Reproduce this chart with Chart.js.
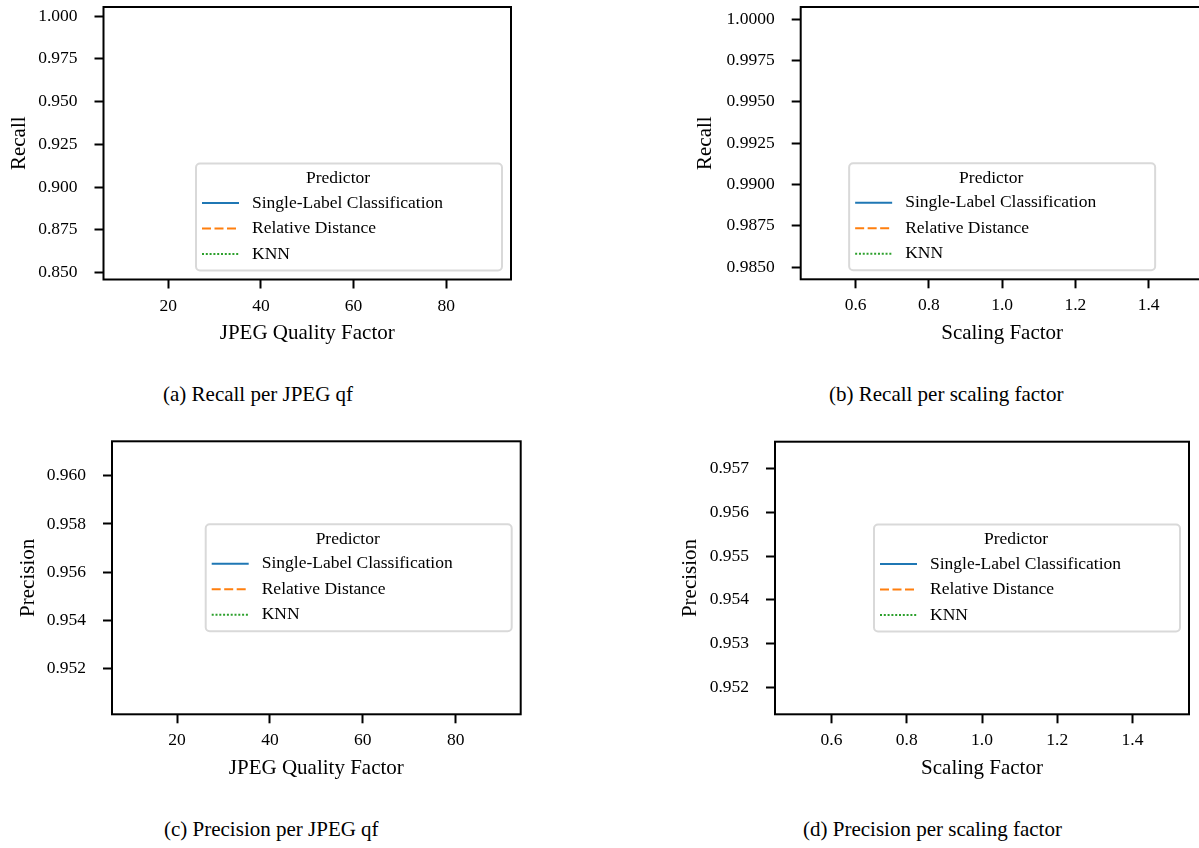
<!DOCTYPE html>
<html>
<head>
<meta charset="utf-8">
<title>Recall / Precision per perturbation</title>
<script src="https://cdn.jsdelivr.net/npm/chart.js@4"></script>
<style>
    html, body {
        margin: 0;
        padding: 0;
        background: #fff;
    }
    #page {
        position: relative;
        width: 1199px;
        height: 848px;
        overflow: hidden;
        background: #fff;
    }
    canvas {
        position: absolute;
    }
    .caption {
        position: absolute;
        font-family: "Liberation Serif", "Times New Roman", serif;
        font-size: 21px;
        line-height: 1;
        color: #000;
        white-space: nowrap;
    }
</style>
</head>
<body>
<div id="page">
    <canvas id="recallJpeg" width="530" height="380" style="left:0px;top:0px;"></canvas>
    <canvas id="recallScale" width="540" height="380" style="left:680px;top:0px;"></canvas>
    <canvas id="precisionJpeg" width="530" height="380" style="left:0px;top:420px;"></canvas>
    <canvas id="precisionScale" width="530" height="380" style="left:670px;top:420px;"></canvas>

    <div class="caption" style="left:163px;top:384px;">(a) Recall per JPEG qf</div>
    <div class="caption" style="left:829px;top:384px;">(b) Recall per scaling factor</div>
    <div class="caption" style="left:164px;top:819px;">(c) Precision per JPEG qf</div>
    <div class="caption" style="left:803px;top:819px;">(d) Precision per scaling factor</div>
</div>

<script>
// ======================================================
// Data
// ======================================================

const predictors = [
    "Single-Label Classification",
    "Relative Distance",
    "KNN"
];

// series per predictor, {x, y} points — none fall inside the plotted windows
const recallJpegSeries = [[], [], []];
const recallScaleSeries = [[], [], []];
const precisionJpegSeries = [[], [], []];
const precisionScaleSeries = [[], [], []];

const jpegTicks = [20, 40, 60, 80];
const scaleTicks = [0.6, 0.8, 1.0, 1.2, 1.4];

const recallJpegTicks = [0.850, 0.875, 0.900, 0.925, 0.950, 0.975, 1.000];
const recallScaleTicks = [0.9850, 0.9875, 0.9900, 0.9925, 0.9950, 0.9975, 1.0000];
const precisionJpegTicks = [0.952, 0.954, 0.956, 0.958, 0.960];
const precisionScaleTicks = [0.952, 0.953, 0.954, 0.955, 0.956, 0.957];

// axis windows [min, max]
const jpegRange = [6, 94];
const scaleRange = [0.45, 1.55];
const recallJpegRange = [0.8459, 1.0053];
const recallScaleRange = [0.98427, 1.00074];
const precisionJpegRange = [0.95011, 0.961426];
const precisionScaleRange = [0.951375, 0.957618];

// ======================================================
// Style
// ======================================================

const SERIF = "'Liberation Serif', 'Times New Roman', serif";

const lineStyles = [
    { color: "#1f77b4", dash: [] },
    { color: "#ff7f0e", dash: [9, 3.5] },
    { color: "#2ca02c", dash: [2, 1.8] }
];

// ======================================================
// Plugins
// ======================================================

// full black frame around the plotting area
const frame = {
    id: "frame",
    afterDraw(chart) {
        const { ctx, chartArea: a } = chart;
        ctx.save();
        ctx.strokeStyle = "#000";
        ctx.lineWidth = 2;
        ctx.strokeRect(a.left, a.top, a.right - a.left, a.bottom - a.top);
        ctx.restore();
    }
};

// boxed legend with a title, drawn from the datasets
const predictorLegend = {
    id: "predictorLegend",
    afterDraw(chart, args, opts) {
        const { ctx, chartArea: a } = chart;
        const w = 306;
        const h = 107;
        const pad = 9;
        let x = a.right - pad - w;
        let y = a.bottom - pad - h;

        if (opts.loc === "lower center") {
            x = (a.left + a.right) / 2 - w / 2;
        }
        if (opts.loc === "center right") {
            y = (a.top + a.bottom) / 2 - h / 2;
        }

        ctx.save();

        ctx.beginPath();
        ctx.roundRect(x, y, w, h, 4);
        ctx.fillStyle = "rgba(255,255,255,0.8)";
        ctx.fill();
        ctx.strokeStyle = "#d9d9d9";
        ctx.lineWidth = 2;
        ctx.stroke();

        ctx.font = "17.5px " + SERIF;
        ctx.fillStyle = "#000";
        ctx.textBaseline = "middle";
        ctx.textAlign = "center";
        ctx.fillText(opts.title, x + 142, y + 15);

        chart.data.datasets.forEach((ds, i) => {
            const ly = y + 39.5 + i * 25.5;

            ctx.beginPath();
            ctx.setLineDash(ds.borderDash);
            ctx.strokeStyle = ds.borderColor;
            ctx.lineWidth = ds.borderWidth;
            ctx.lineCap = "butt";
            ctx.moveTo(x + 6, ly);
            ctx.lineTo(x + 43, ly);
            ctx.stroke();
            ctx.setLineDash([]);

            ctx.textAlign = "left";
            ctx.fillText(ds.label, x + 56, ly);
        });

        ctx.restore();
    }
};

// ======================================================
// Panel builder
// ======================================================

function makePanel(id, p) {

    const datasets = predictors.map((name, i) => ({
        label: name,
        data: p.series[i],
        borderColor: lineStyles[i].color,
        borderDash: lineStyles[i].dash,
        borderWidth: 2,
        pointRadius: 0,
        fill: false
    }));

    const tickFont = { family: SERIF, size: 17.5 };
    const titleFont = { family: SERIF, size: 21, lineHeight: 1 };

    return new Chart(
        document.getElementById(id),
        {
            type: "line",
            data: { datasets },
            plugins: [frame, predictorLegend],
            options: {
                responsive: false,
                animation: false,
                layout: {
                    padding: { top: p.area.top, right: p.area.right, bottom: 0, left: 0 }
                },
                plugins: {
                    legend: { display: false },
                    tooltip: { enabled: false },
                    predictorLegend: { loc: p.legendLoc, title: "Predictor" }
                },
                scales: {
                    x: {
                        type: "linear",
                        position: "bottom",
                        min: p.xRange[0],
                        max: p.xRange[1],
                        afterBuildTicks: s => {
                            s.ticks = p.xTicks.map(v => ({ value: v }));
                        },
                        afterFit: s => {
                            s.height = p.area.xHeight;
                            s.paddingLeft = 0;
                            s.paddingRight = 0;
                        },
                        ticks: {
                            autoSkip: false,
                            maxRotation: 0,
                            padding: 7,
                            color: "#000",
                            font: tickFont,
                            callback: v => p.xFormat(v)
                        },
                        grid: {
                            drawOnChartArea: false,
                            drawTicks: true,
                            tickLength: 9,
                            tickWidth: 2,
                            tickColor: "#000"
                        },
                        border: { display: false },
                        title: {
                            display: true,
                            text: p.xTitle,
                            color: "#000",
                            font: titleFont,
                            padding: { top: 0, bottom: p.xTitlePad }
                        }
                    },
                    y: {
                        type: "linear",
                        position: "left",
                        min: p.yRange[0],
                        max: p.yRange[1],
                        afterBuildTicks: s => {
                            s.ticks = p.yTicks.map(v => ({ value: v }));
                        },
                        afterFit: s => {
                            s.width = p.area.left;
                            s.paddingTop = 0;
                            s.paddingBottom = 0;
                        },
                        ticks: {
                            autoSkip: false,
                            padding: 17,
                            color: "#000",
                            font: tickFont,
                            callback: v => v.toFixed(p.yDecimals)
                        },
                        grid: {
                            drawOnChartArea: false,
                            drawTicks: true,
                            tickLength: 9,
                            tickWidth: 2,
                            tickColor: "#000"
                        },
                        border: { display: false },
                        title: {
                            display: true,
                            text: p.yTitle,
                            color: "#000",
                            font: titleFont,
                            padding: { top: p.yTitlePad, bottom: 0 }
                        }
                    }
                }
            }
        }
    );
}

// ======================================================
// Panels
// ======================================================

makePanel("recallJpeg", {
    series: recallJpegSeries,
    xRange: jpegRange,
    yRange: recallJpegRange,
    xTicks: jpegTicks,
    yTicks: recallJpegTicks,
    xFormat: v => String(v),
    yDecimals: 3,
    xTitle: "JPEG Quality Factor",
    yTitle: "Recall",
    area: { left: 103.5, top: 7, right: 19, xHeight: 100.5 },
    xTitlePad: 36.5,
    yTitlePad: 8.5,
    legendLoc: "lower right"
});

makePanel("recallScale", {
    series: recallScaleSeries,
    xRange: scaleRange,
    yRange: recallScaleRange,
    xTicks: scaleTicks,
    yTicks: recallScaleTicks,
    xFormat: v => v.toFixed(1),
    yDecimals: 4,
    xTitle: "Scaling Factor",
    yTitle: "Recall",
    area: { left: 120.7, top: 7, right: 16.4, xHeight: 100.7 },
    xTitlePad: 36.2,
    yTitlePad: 15.2,
    legendLoc: "lower center"
});

makePanel("precisionJpeg", {
    series: precisionJpegSeries,
    xRange: jpegRange,
    yRange: precisionJpegRange,
    xTicks: jpegTicks,
    yTicks: precisionJpegTicks,
    xFormat: v => String(v),
    yDecimals: 3,
    xTitle: "JPEG Quality Factor",
    yTitle: "Precision",
    area: { left: 112, top: 21.3, right: 9.3, xHeight: 85.7 },
    xTitlePad: 21.5,
    yTitlePad: 18.2,
    legendLoc: "center right"
});

makePanel("precisionScale", {
    series: precisionScaleSeries,
    xRange: scaleRange,
    yRange: precisionScaleRange,
    xTicks: scaleTicks,
    yTicks: precisionScaleTicks,
    xFormat: v => v.toFixed(1),
    yDecimals: 3,
    xTitle: "Scaling Factor",
    yTitle: "Precision",
    area: { left: 105, top: 21.7, right: 11, xHeight: 85.7 },
    xTitlePad: 21.5,
    yTitlePad: 9.5,
    legendLoc: "center right"
});
</script>
</body>
</html>
